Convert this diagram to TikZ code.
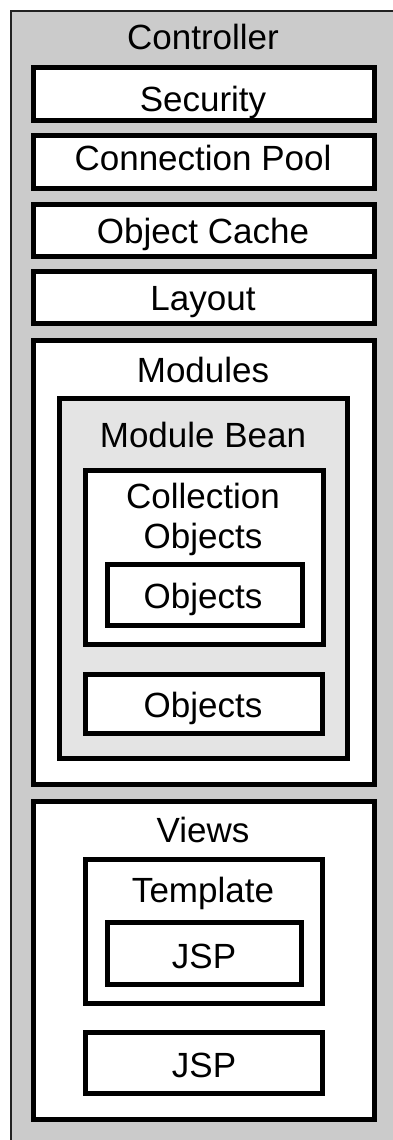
\documentclass[tikz,border=0pt]{standalone}
\usepackage{fontspec}
\setmainfont{Liberation Sans}
\usetikzlibrary{shadows}
\definecolor{ctrlgray}{HTML}{CBCBCB}
\definecolor{beangray}{HTML}{E4E4E4}
\definecolor{frameline}{HTML}{222222}
\begin{document}
\begin{tikzpicture}[x=1pt,y=-1pt,
  every node/.style={inner sep=0pt, outer sep=0pt},
  boxed/.style={rectangle, draw=black, line width=5pt, fill=white,
    drop shadow={shadow xshift=1.5pt, shadow yshift=-1.5pt, fill=black, opacity=1}},
  bean/.style={boxed, fill=beangray},
  lbl/.style={anchor=base, font=\fontsize{35}{40}\selectfont},
]
\useasboundingbox (0,0) rectangle (393,1140);
\clip (0,0) rectangle (393,1140);

% outer controller frame, running off the right and bottom edges
\node[rectangle, draw=frameline, line width=2pt, fill=ctrlgray,
  minimum width=419pt, minimum height=1169pt] (controller) at (220.5,595.5) {};
\node[lbl] (controllerLabel) at (203,50) {Controller};

% services of the controller
\node[boxed, minimum width=341pt, minimum height=53pt] (security) at (204,94) {};
\node[lbl] (securityLabel) at (203,111.5) {Security};
\node[boxed, minimum width=341pt, minimum height=53pt] (pool) at (204,162) {};
\node[lbl] (poolLabel) at (203,170.5) {Connection Pool};
\node[boxed, minimum width=341pt, minimum height=52pt] (cache) at (204,230.5) {};
\node[lbl] (cacheLabel) at (203,243) {Object Cache};
\node[boxed, minimum width=341pt, minimum height=52pt] (layout) at (204,297.5) {};
\node[lbl] (layoutLabel) at (203,310) {Layout};

% modules
\node[boxed, minimum width=341pt, minimum height=444pt] (modules) at (204,562.5) {};
\node[lbl] (modulesLabel) at (203,382) {Modules};
\node[bean, minimum width=288pt, minimum height=360pt] (bean) at (203.5,578.5) {};
\node[lbl] (beanLabel) at (203,447) {Module Bean};
\node[boxed, minimum width=238pt, minimum height=174pt] (collection) at (204.5,557.5) {};
\node[lbl] (collectionLabel) at (203,508) {Collection};
\node[lbl] (collectionLabelB) at (203,548) {Objects};
\node[boxed, minimum width=195pt, minimum height=61pt] (objectsA) at (205,595) {};
\node[lbl] (objectsALabel) at (203,608) {Objects};
\node[boxed, minimum width=237pt, minimum height=59pt] (objectsB) at (204,704) {};
\node[lbl] (objectsBLabel) at (203,717) {Objects};

% views
\node[boxed, minimum width=341pt, minimum height=318pt] (views) at (204,960.5) {};
\node[lbl] (viewsLabel) at (203,842.5) {Views};
\node[boxed, minimum width=237pt, minimum height=144pt] (template) at (204,931.5) {};
\node[lbl] (templateLabel) at (203,902) {Template};
\node[boxed, minimum width=194pt, minimum height=62pt] (jspA) at (204.5,953.5) {};
\node[lbl] (jspALabel) at (204,968) {JSP};
\node[boxed, minimum width=237pt, minimum height=61pt] (jspB) at (204,1063) {};
\node[lbl] (jspBLabel) at (204,1077) {JSP};
\end{tikzpicture}
\end{document}
